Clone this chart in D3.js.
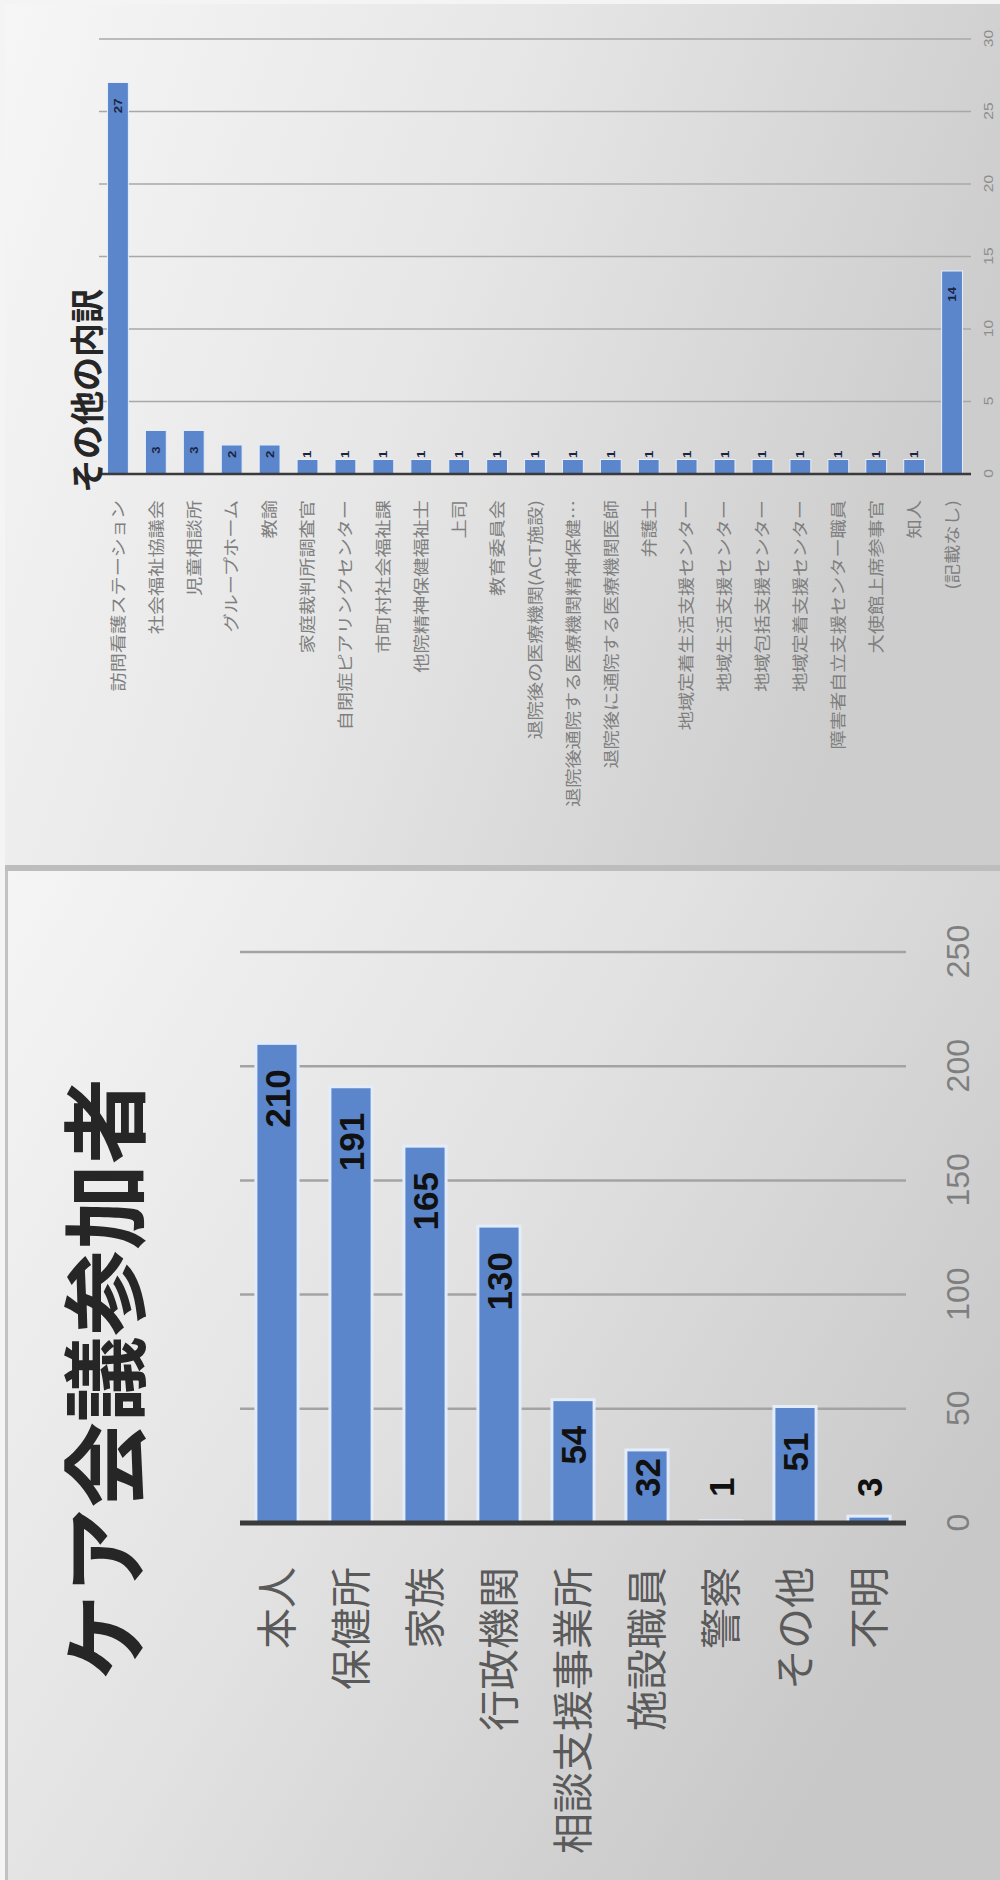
<!DOCTYPE html>
<html>
<head>
<meta charset="utf-8">
<script src="https://cdn.jsdelivr.net/npm/d3@7"></script>
<style>
body { margin: 0; background: #fff; }
svg { display: block; font-family: "Noto Sans CJK JP", sans-serif; }
</style>
</head>
<body>
<svg id="chart" width="1000" height="1880"></svg>
<script>
// ケア会議参加者
const mainCats = ['本人', '保健所', '家族', '行政機関', '相談支援事業所', '施設職員', '警察', 'その他', '不明'];
const mainVals = [210, 191, 165, 130, 54, 32, 1, 51, 3];
const mainTicks = [0, 50, 100, 150, 200, 250];

// その他の内訳
const otherCats = [
    '訪問看護ステーション', '社会福祉協議会', '児童相談所', 'グループホーム', '教諭',
    '家庭裁判所調査官', '自閉症ピアリンクセンター', '市町村社会福祉課', '他院精神保健福祉士', '上司',
    '教育委員会', '退院後の医療機関(ACT施設)', '退院後通院する医療機関精神保健…', '退院後に通院する医療機関医師', '弁護士',
    '地域定着生活支援センター', '地域生活支援センター', '地域包括支援センター', '地域定着支援センター', '障害者自立支援センター職員',
    '大使館上席参事官', '知人', '(記載なし)'
];
const otherVals = [27, 3, 3, 2, 2, 1, 1, 1, 1, 1, 1, 1, 1, 1, 1, 1, 1, 1, 1, 1, 1, 1, 14];
const otherTicks = [0, 5, 10, 15, 20, 25, 30];

const svg = d3.select('#chart');
const numFont = '"Liberation Sans", Arial, sans-serif';

// panel backgrounds (picture frame)
const defs = svg.append('defs');
function grad(id, x2, y2, stops) {
    const lg = defs.append('linearGradient').attr('id', id)
        .attr('x1', 0).attr('y1', 0).attr('x2', x2).attr('y2', y2);
    stops.forEach(s => lg.append('stop').attr('offset', s[0]).attr('stop-color', s[1]));
}
grad('bgTop', 1, 0.3, [[0, '#f6f6f6'], [0.5, '#e6e6e6'], [1, '#cdcdcd']]);
grad('bgBottom', 1, 0.6, [[0, '#f5f5f5'], [0.5, '#e2e2e2'], [1, '#c8c8c8']]);

svg.append('rect').attr('x', 0).attr('y', 0).attr('width', 1000).attr('height', 1880).attr('fill', '#f4f4f4');
svg.append('rect').attr('x', 5).attr('y', 4).attr('width', 995).attr('height', 861).attr('fill', 'url(#bgTop)');
svg.append('rect').attr('x', 5).attr('y', 865).attr('width', 995).attr('height', 6).attr('fill', '#bdbdbd');
svg.append('rect').attr('x', 5).attr('y', 871).attr('width', 995).attr('height', 1009).attr('fill', 'url(#bgBottom)');
svg.append('rect').attr('x', 5).attr('y', 871).attr('width', 3).attr('height', 1009).attr('fill', '#c2c2c2');

// the slide is turned a quarter: draw it landscape, then rotate
const g = svg.append('g').attr('transform', 'translate(0,1880) rotate(-90)');

function barChart(cats, vals, ticks, c) {
    const x = d3.scaleLinear().domain([0, d3.max(ticks)]).range(c.xRange);
    const y = d3.scaleBand().domain(cats).range(c.yRange)
        .paddingInner(c.pad).paddingOuter(c.pad / 2);
    const st = `scale(${c.stretch},1)`;

    // gridlines
    g.selectAll(null).data(ticks.filter(t => t > 0)).join('line')
        .attr('x1', d => x(d)).attr('x2', d => x(d))
        .attr('y1', c.yRange[0]).attr('y2', c.yRange[1])
        .attr('stroke', c.gridColor).attr('stroke-width', c.gridWidth);

    // bars
    g.selectAll(null).data(vals).join('rect')
        .attr('x', x(0))
        .attr('y', (d, i) => y(cats[i]))
        .attr('width', d => x(d) - x(0))
        .attr('height', y.bandwidth())
        .attr('fill', '#5b86cc')
        .attr('stroke', c.barStroke).attr('stroke-width', c.barStrokeWidth);

    // baseline
    g.append('line')
        .attr('x1', x(0)).attr('x2', x(0))
        .attr('y1', c.yRange[0]).attr('y2', c.yRange[1])
        .attr('stroke', '#3a3a3a').attr('stroke-width', c.baseWidth);

    // value axis labels
    const ax = g.append('g').attr('transform', `translate(0,${c.tickY})`)
        .call(d3.axisBottom(x).tickValues(ticks).tickSize(0).tickPadding(0));
    ax.select('.domain').remove();
    ax.attr('font-family', numFont).attr('font-size', c.tickFont);
    ax.selectAll('text').attr('y', 0).attr('dy', '0.35em')
        .attr('transform', st).attr('fill', c.tickColor);

    // category labels
    const cy = g.append('g').attr('transform', `translate(${x(0)},0)`)
        .call(d3.axisLeft(y).tickSize(0).tickPadding(0));
    cy.select('.domain').remove();
    cy.attr('font-family', '"Noto Sans CJK JP", sans-serif').attr('font-size', c.labelFont);
    cy.selectAll('text').attr('x', 0).attr('dy', '0.36em')
        .attr('transform', `translate(${-c.labelGap},0) ${st}`)
        .attr('fill', c.labelColor);

    // data labels
    g.selectAll(null).data(vals).join('text')
        .text(d => d)
        .attr('font-family', numFont)
        .attr('font-size', c.valFont).attr('font-weight', 'bold')
        .attr('fill', c.valColor).attr('dy', '0.36em')
        .attr('transform', function (d, i) {
            const len = this.getComputedTextLength() * c.stretch;
            const u = Math.max(x(0) + c.valPad, x(d) - c.valPad - len);
            return `translate(${u},${y(cats[i]) + y.bandwidth() / 2}) ${st}`;
        });

    // title
    g.append('text')
        .attr('transform', `translate(${c.titleX},${c.titleY})`)
        .attr('text-anchor', 'middle').attr('dy', '0.36em')
        .attr('font-size', c.titleFont).attr('font-weight', 'bold')
        .attr('fill', '#262626')
        .text(c.title);
}

barChart(mainCats, mainVals, mainTicks, {
    xRange: [357, 928], yRange: [240, 906], pad: 0.43, stretch: 1,
    gridColor: '#a3a3a3', gridWidth: 2.5,
    barStroke: '#e3ecf9', barStrokeWidth: 3, baseWidth: 5,
    tickY: 958, tickFont: 32, tickColor: '#7f7f7f',
    labelGap: 44, labelFont: 41, labelColor: '#5a5a5a',
    valFont: 35, valColor: '#111', valPad: 26,
    title: 'ケア会議参加者', titleX: 501, titleY: 107, titleFont: 86
});

barChart(otherCats, otherVals, otherTicks, {
    xRange: [1406, 1841], yRange: [99, 971], pad: 0.45, stretch: 1.2,
    gridColor: '#a8a8a8', gridWidth: 1.5,
    barStroke: '#e6eefa', barStrokeWidth: 1, baseWidth: 2.5,
    tickY: 988, tickFont: 13, tickColor: '#8c8c8c',
    labelGap: 26, labelFont: 16, labelColor: '#7f7f7f',
    valFont: 11, valColor: '#1b2440', valPad: 16,
    title: 'その他の内訳', titleX: 1489, titleY: 88, titleFont: 34
});
</script>
</body>
</html>
